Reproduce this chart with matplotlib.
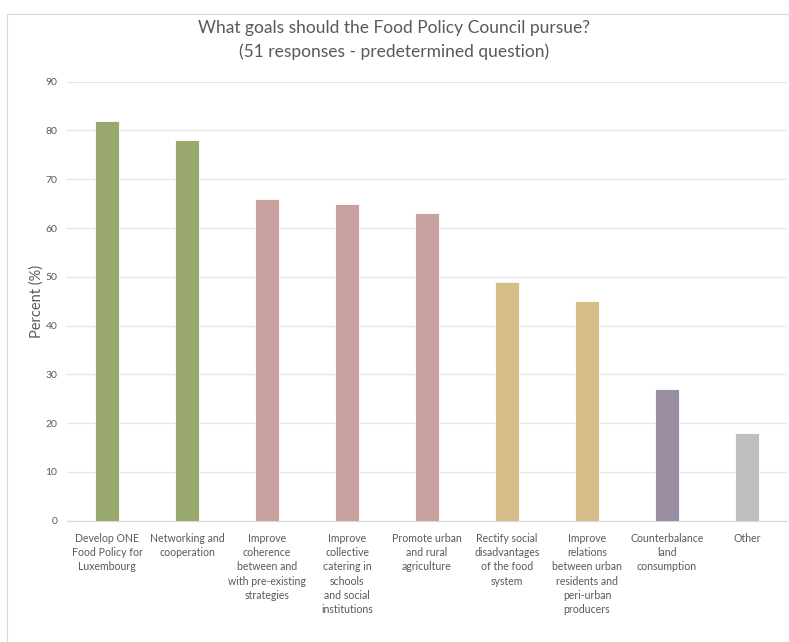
import matplotlib.pyplot as plt
from matplotlib.patches import Rectangle

# dados
categorias = [
    "Develop ONE\nFood Policy for\nLuxembourg",
    "Networking and\ncooperation",
    "Improve\ncoherence\nbetween and\nwith pre-existing\nstrategies",
    "Improve\ncollective\ncatering in\nschools\nand social\ninstitutions",
    "Promote urban\nand rural\nagriculture",
    "Rectify social\ndisadvantages\nof the food\nsystem",
    "Improve\nrelations\nbetween urban\nresidents and\nperi-urban\nproducers",
    "Counterbalance\nland\nconsumption",
    "Other",
]
percentuais = [82, 78, 66, 65, 63, 49, 45, 27, 18]
cores = ["#98a86f", "#98a86f", "#c9a19f", "#c9a19f", "#c9a19f",
         "#d5bd87", "#d5bd87", "#9a8ea2", "#bfbfbf"]
yticks = list(range(0, 91, 10))

texto = "#595959"
plt.rcParams['font.family'] = ['Lato', 'DejaVu Sans']

fig = plt.figure(figsize=(7.89, 6.42), dpi=100)
ax = fig.add_axes([67 / 789, 121.3 / 642, 720 / 789, 439 / 642])

# moldura do gráfico
fig.patches.append(Rectangle((7 / 789, -0.05), 1.1, (642 - 14) / 642 + 0.05,
                             transform=fig.transFigure, fill=False,
                             edgecolor="#d9d9d9", linewidth=0.8))

x = range(len(categorias))
ax.bar(x, percentuais, width=0.31, color=cores, edgecolor="white", linewidth=0.6, zorder=3)

ax.set_xlim(-0.5, len(categorias) - 0.5)
ax.set_ylim(0, 90)
ax.set_yticks(yticks)
ax.set_xticks(list(x))
ax.set_xticklabels(categorias, fontsize=7.6, color=texto, linespacing=1.35)
ax.tick_params(axis='y', labelsize=7.5, colors=texto, length=0, pad=7)
ax.tick_params(axis='x', length=0, pad=9)
ax.grid(axis='y', color="#e6e6e6", linewidth=1, zorder=0)
for lado in ["top", "right", "left"]:
    ax.spines[lado].set_visible(False)
ax.spines["bottom"].set_color("#d9d9d9")

ax.set_ylabel("Percent (%)", fontsize=10.5, color=texto)
ax.yaxis.set_label_coords(-0.032, 0.5)

fig.text(0.5, 1 - 40 / 642, "What goals should the Food Policy Council pursue?\n(51 responses - predetermined question)",
         ha="center", va="center", fontsize=12.5, color=texto, linespacing=1.5)

fig.savefig("out.png", dpi=100)
